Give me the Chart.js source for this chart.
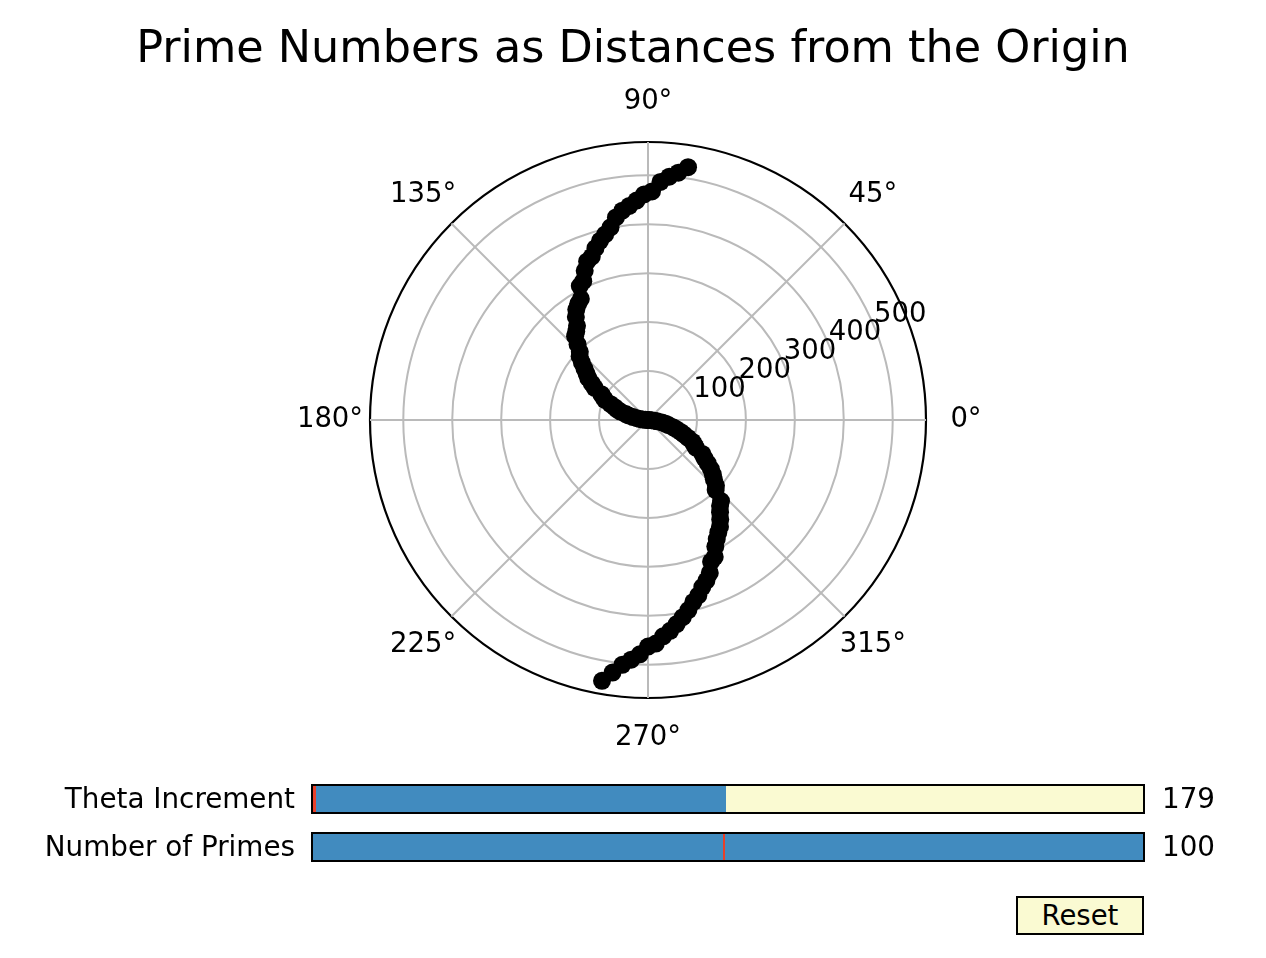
<!DOCTYPE html>
<html>
<head>
<meta charset="utf-8">
<script src="https://cdn.jsdelivr.net/npm/chart.js@4.4.0/dist/chart.umd.min.js"></script>
<style>
  html, body { margin: 0; padding: 0; background: #fff; }
  #wrap { position: relative; width: 1266px; height: 958px; overflow: hidden; font-family: 'DejaVu Sans', sans-serif; }
  canvas { position: absolute; left: 0; top: 0; }
  .lbl { position: absolute; font-size: 27.8px; color: #000; line-height: 1; white-space: nowrap; }
  .track { position: absolute; background: #FAFAD2; }
  .fill { position: absolute; background: #418BBF; }
  .init { position: absolute; width: 2.5px; background: #E8402A; }
  .frame { position: absolute; box-sizing: border-box; border: 2.5px solid #000; }
  .btn { position: absolute; box-sizing: border-box; border: 2px solid #000; background: #FAFAD2; font-size: 27.5px; text-align: center; }
</style>
</head>
<body>
<div id="wrap">
  <canvas id="c" width="1266" height="958"></canvas>
</div>
<script>
// ---- data ----
const primes = [2,3,5,7,11,13,17,19,23,29,31,37,41,43,47,53,59,61,67,71,
  73,79,83,89,97,101,103,107,109,113,127,131,137,139,149,151,157,163,167,173,
  179,181,191,193,197,199,211,223,227,229,233,239,241,251,257,263,269,271,277,281,
  283,293,307,311,313,317,331,337,347,349,353,359,367,373,379,383,389,397,401,409,
  419,421,431,433,439,443,449,457,461,463,467,479,487,491,499,503,509,521,523,541];
// angle (degrees, counter-clockwise from 0°) of each prime
const anglesDeg = [179,358,177,356,175,354,173,352,171,350,169,348,167,346,165,344,163,342,161,340,
  159,338,157,336,155,334,153,332,151,330,149,328,147,326,145,324,143,322,141,320,
  139,318,137,316,135,314,133,312,131,310,129,308,127,306,125,304,123,302,121,300,
  119,298,117,296,115,294,113,292,111,290,109,288,107,286,105,284,103,282,101,280,
  99,278,97,276,95,274,93,272,91,270,89,268,87,266,85,264,83,262,81,260];
const angleTickLabels = ['0°','45°','90°','135°','180°','225°','270°','315°'];
const angleTickValues = [0,45,90,135,180,225,270,315];
const radialTicks = [100,200,300,400,500];
const radialMax = 568;
const titleText = 'Prime Numbers as Distances from the Origin';
const sliders = [
  { label: 'Theta Increment', min: 0, max: 360, value: 179, init: 1, text: '179' },
  { label: 'Number of Primes', min: 1, max: 100, value: 100, init: 50, text: '100' }
];

// ---- build radar-based polar data (one slot per degree) ----
const N = 360;
const labels = [];
for (let i = 0; i < N; i++) labels.push(String(i));
const idxForAngle = a => (((90 - a) % 360) + 360) % 360;
const rData = new Array(N).fill(null);
primes.forEach((p, k) => { rData[idxForAngle(anglesDeg[k])] = p; });
const angleLineSet = new Set(angleTickValues.map(idxForAngle));

const FONT = "'DejaVu Sans', sans-serif";

const polarText = {
  id: 'polarText',
  afterDraw(chart) {
    const ctx = chart.ctx;
    const s = chart.scales.r;
    ctx.save();
    ctx.fillStyle = '#000';
    // title
    ctx.font = '44.5px ' + FONT;
    ctx.textAlign = 'center';
    ctx.textBaseline = 'alphabetic';
    ctx.fillText(titleText, 633, 62);
    // angular labels
    ctx.font = '27.5px ' + FONT;
    ctx.textBaseline = 'middle';
    angleTickValues.forEach((a, j) => {
      const pos = s.getPointPosition(idxForAngle(a), s.drawingArea + 40);
      ctx.fillText(angleTickLabels[j], pos.x, pos.y);
    });
    // radial labels at 22.5°
    ctx.textAlign = 'left';
    ctx.textBaseline = 'bottom';
    const th = 22.5 * Math.PI / 180;
    radialTicks.forEach(v => {
      const d = s.getDistanceFromCenterForValue(v);
      ctx.fillText(String(v), s.xCenter + d * Math.cos(th), s.yCenter - d * Math.sin(th) + 2);
    });
    ctx.restore();
  }
};

new Chart(document.getElementById('c'), {
  type: 'radar',
  data: {
    labels: labels,
    datasets: [{
      data: rData,
      showLine: false,
      pointRadius: 9,
      pointBackgroundColor: '#000',
      pointBorderColor: '#000',
      pointBorderWidth: 0,
      pointHoverRadius: 9
    }]
  },
  options: {
    responsive: false,
    animation: false,
    events: [],
    layout: { padding: { left: 370, right: 340, top: 142, bottom: 260 } },
    plugins: { legend: { display: false }, title: { display: false }, tooltip: { enabled: false } },
    scales: {
      r: {
        min: 0,
        max: radialMax,
        startAngle: 0,
        afterBuildTicks: axis => {
          axis.ticks = [0].concat(radialTicks, [radialMax]).map(v => ({ value: v }));
        },
        ticks: { display: false },
        pointLabels: { display: false },
        grid: {
          circular: true,
          color: ctx => (ctx.tick && ctx.tick.value === radialMax) ? '#000' : '#bababa',
          lineWidth: ctx => (ctx.tick && ctx.tick.value === radialMax) ? 2.2 : 2
        },
        angleLines: {
          display: true,
          color: ctx => angleLineSet.has(ctx.index) ? '#bababa' : 'rgba(0,0,0,0)',
          lineWidth: 2
        }
      }
    }
  },
  plugins: [polarText]
});

// ---- slider widgets ----
const wrap = document.getElementById('wrap');
const trackLeft = 312, trackRight = 1144, trackH = 28;
const trackTops = [785, 833];
function addDiv(cls, l, t, w, h) {
  const d = document.createElement('div');
  d.className = cls;
  d.style.left = l + 'px'; d.style.top = t + 'px';
  d.style.width = w + 'px'; d.style.height = h + 'px';
  wrap.appendChild(d);
  return d;
}
sliders.forEach((sl, i) => {
  const top = trackTops[i];
  const w = trackRight - trackLeft;
  addDiv('track', trackLeft, top, w, trackH);
  addDiv('fill', trackLeft, top, (sl.value - sl.min) / (sl.max - sl.min) * w, trackH);
  addDiv('init', trackLeft + (sl.init - sl.min) / (sl.max - sl.min) * w - 1.25, top, 2.5, trackH);
  addDiv('frame', trackLeft - 1.25, top - 1.25, w + 2.5, trackH + 2.5);

  const l = document.createElement('div');
  l.className = 'lbl';
  l.textContent = sl.label;
  l.style.right = (1266 - 295) + 'px';
  l.style.top = (top + trackH / 2 - 14) + 'px';
  wrap.appendChild(l);

  const v = document.createElement('div');
  v.className = 'lbl';
  v.textContent = sl.text;
  v.style.left = '1162px';
  v.style.top = (top + trackH / 2 - 14) + 'px';
  wrap.appendChild(v);
});
const b = document.createElement('div');
b.className = 'btn';
b.textContent = 'Reset';
b.style.left = '1016px';
b.style.top = '896px';
b.style.width = '128px';
b.style.height = '39px';
b.style.lineHeight = '35px';
wrap.appendChild(b);
</script>
</body>
</html>
